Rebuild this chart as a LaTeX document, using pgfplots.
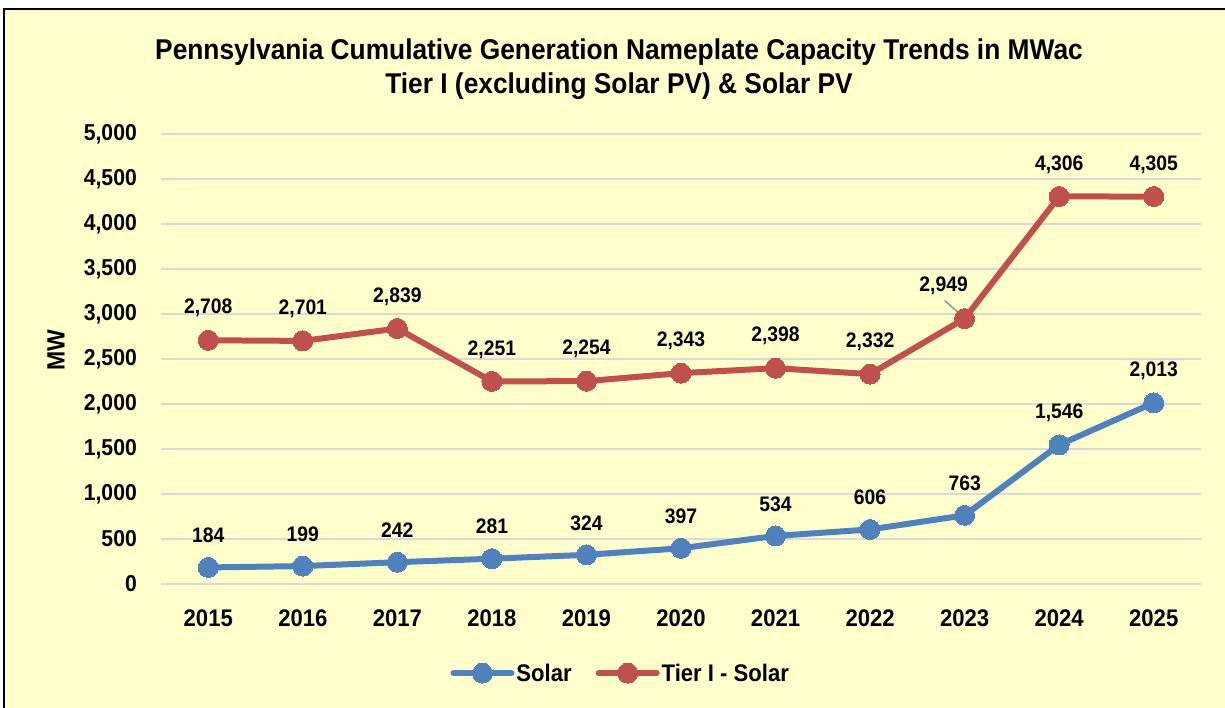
\documentclass[border=0pt]{standalone}
\usepackage{pgfplots}
\pgfplotsset{compat=1.18}
\usepackage{fontspec}
\setmainfont{Liberation Sans}[FakeStretch=0.92]
\definecolor{bg}{RGB}{255,255,204}
\definecolor{solar}{RGB}{79,129,189}
\definecolor{tier}{RGB}{192,80,77}
\definecolor{gridc}{RGB}{217,217,217}
\definecolor{leader}{RGB}{150,150,150}
\pgfplotstableread{
x y dx dy
2015 184 0 32
2016 199 0 32
2017 242 0 32
2018 281 0 32
2019 324 0 32
2020 397 0 32
2021 534 0 32
2022 606 0 32
2023 763 0 32
2024 1546 0 32
2025 2013 0 32
}\solar
\pgfplotstableread{
x y dx dy
2015 2708 0 32
2016 2701 0 32
2017 2839 0 32
2018 2251 0 32
2019 2254 0 32
2020 2343 0 32
2021 2398 0 32
2022 2332 0 32
2023 2949 -21 33
2024 4306 0 32
2025 4305 0 32
}\tier
\begin{document}
\begin{tikzpicture}
\fill[white] (0pt,0pt) rectangle (1225pt,708pt);
\path[use as bounding box] (0pt,0pt) rectangle (1225pt,708pt);
\begin{scope}
\clip (0pt,0pt) rectangle (1225pt,708pt);
\filldraw[fill=bg,draw=black,line width=2pt] (4pt,-10pt) rectangle (1240pt,699pt);
\end{scope}
\node[font=\fontsize{28.6}{34}\selectfont\bfseries, align=center, anchor=center] at (619pt,639pt)
  {Pennsylvania Cumulative Generation Nameplate Capacity Trends in MWac\\Tier I (excluding Solar PV) \& Solar PV};
\begin{axis}[
  at={(161pt,124pt)}, anchor=south west,
  scale only axis, width=1040pt, height=450pt,
  xmin=2014.5, xmax=2025.5, ymin=0, ymax=5000,
  xtick=data, ytick distance=500,
  scaled y ticks=false,
  axis line style={draw=none},
  major tick style={draw=none},
  ymajorgrids, grid style={gridc, line width=1.8pt},
  clip=false,
  /pgf/number format/assume math mode=true,
  /pgf/number format/.cd, 1000 sep={,}, fixed, /pgfplots/.cd,
  yticklabel style={font=\fontsize{23}{27}\selectfont\bfseries, anchor=east, inner sep=0pt, xshift=-24pt},
  xticklabel style={font=\fontsize{24}{28}\selectfont\bfseries, anchor=north, inner sep=0pt, yshift=-26pt, /pgf/number format/1000 sep={}},
  ylabel={MW},
  ylabel style={font=\fontsize{25}{29}\selectfont\bfseries, at={(axis description cs:-0.101,0.52)}, anchor=center},
  legend columns=2,
  legend style={at={(0.442,-0.198)}, anchor=center, draw=none, fill=none,
    font=\fontsize{24}{28}\selectfont\bfseries,
    /tikz/every even column/.append style={column sep=22pt},
    nodes={inner sep=2pt}},
  legend image code/.code={\draw[#1, mark repeat=2, mark phase=2] plot coordinates {(0pt,0pt) (29pt,0pt) (58pt,0pt)};},
  nodes near coords,
  visualization depends on={\thisrow{dx} \as \labdx},
  visualization depends on={\thisrow{dy} \as \labdy},
  every node near coord/.append style={font=\fontsize{21}{25}\selectfont\bfseries, anchor=center, inner sep=0pt, xshift=\labdx pt, yshift=\labdy pt, text=black},
]
\addplot[solar, line width=6pt, line join=round, line cap=round, mark=*, mark size=10pt, mark options={fill=solar, draw=solar, line width=0pt}] table[x=x,y=y] {\solar};
\addlegendentry{Solar}
\addplot[tier, line width=6pt, line join=round, line cap=round, mark=*, mark size=10pt, mark options={fill=tier, draw=tier, line width=0pt}] table[x=x,y=y] {\tier};
\addlegendentry{Tier I - Solar}
\draw[leader, line width=1.5pt] (axis cs:2023,2949) ++(-3pt,3pt) -- ++(-17pt,15pt);
\end{axis}
\end{tikzpicture}
\end{document}
